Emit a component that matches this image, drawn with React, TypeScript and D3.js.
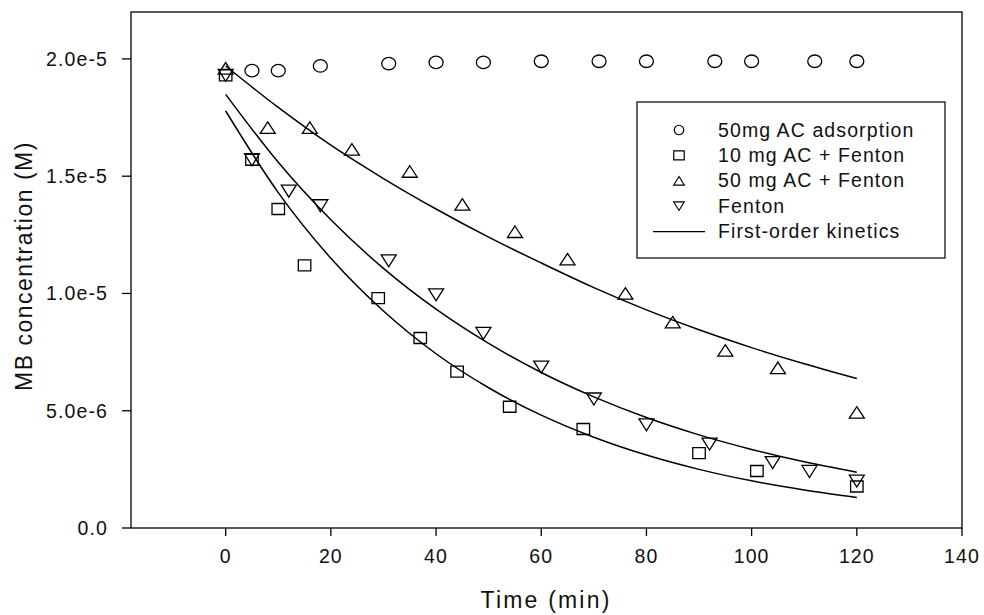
import React from "react";
import * as d3 from "d3";

// values in units of 1e-6 M
const adsorptionTime = [5, 10, 18, 31, 40, 49, 60, 71, 80, 93, 100, 112, 120];
const adsorptionConc = [19.5, 19.5, 19.7, 19.8, 19.85, 19.85, 19.9, 19.9, 19.9, 19.9, 19.9, 19.9, 19.9];

const ac10Time = [0, 5, 10, 15, 29, 37, 44, 54, 68, 90, 101, 120];
const ac10Conc = [19.3, 15.7, 13.6, 11.2, 9.8, 8.1, 6.67, 5.17, 4.22, 3.19, 2.43, 1.77];

const ac50Time = [0, 8, 16, 24, 35, 45, 55, 65, 76, 85, 95, 105, 120];
const ac50Conc = [19.6, 17.07, 17.07, 16.14, 15.2, 13.8, 12.63, 11.46, 10.0, 8.78, 7.57, 6.83, 4.93];

const fentonTime = [0, 5, 12, 18, 31, 40, 49, 60, 70, 80, 92, 104, 111, 120];
const fentonConc = [19.3, 15.7, 14.36, 13.74, 11.39, 9.94, 8.3, 6.86, 5.5, 4.4, 3.58, 2.79, 2.41, 2.0];

// first-order kinetics curves
const fitTime = [0, 10, 20, 30, 40, 50, 60, 70, 80, 90, 100, 110, 120];
const fitAc10 = [17.78, 14.3, 11.5, 9.25, 7.43, 5.98, 4.81, 3.87, 3.11, 2.5, 2.01, 1.62, 1.3];
const fitAc50 = [19.7, 17.93, 16.32, 14.9, 13.6, 12.4, 11.3, 10.25, 9.3, 8.45, 7.69, 7.0, 6.37];
const fitFenton = [18.49, 15.59, 13.14, 11.07, 9.33, 7.87, 6.63, 5.59, 4.71, 3.97, 3.35, 2.82, 2.38];

const xTicks = [0, 20, 40, 60, 80, 100, 120, 140];
const yTicks = [0, 5e-6, 1e-5, 1.5e-5, 2e-5];
const yTickLabels = ["0.0", "5.0e-6", "1.0e-5", "1.5e-5", "2.0e-5"];

const legendLabels = [
  "50mg AC adsorption",
  "10 mg AC + Fenton",
  "50 mg AC + Fenton",
  "Fenton",
  "First-order kinetics",
];

const font = "'Liberation Sans', Arial, sans-serif";

const left = 131, right = 962, top = 12, bottom = 528;

const getX = d3.scaleLinear().domain([-18, 140]).range([left, right]);
const getY = d3.scaleLinear().domain([0, 2.2e-5]).range([bottom, top]);

type Shape = "circle" | "square" | "up" | "down";

function markerPath(shape: Shape, cx: number, cy: number, w: number, h: number) {
  if (shape === "circle") {
    return `M${cx - w / 2},${cy}a${w / 2},${h / 2} 0 1,0 ${w},0a${w / 2},${h / 2} 0 1,0 ${-w},0Z`;
  }
  const p = d3.path();
  if (shape === "square") {
    p.rect(cx - w / 2, cy - h / 2, w, h);
    return p.toString();
  }
  if (shape === "up") {
    p.moveTo(cx, cy - h / 2);
    p.lineTo(cx + w / 2, cy + h / 2);
    p.lineTo(cx - w / 2, cy + h / 2);
    p.closePath();
    return p.toString();
  }
  p.moveTo(cx - w / 2, cy - h / 2);
  p.lineTo(cx + w / 2, cy - h / 2);
  p.lineTo(cx, cy + h / 2);
  p.closePath();
  return p.toString();
}

const series: { time: number[]; conc: number[]; shape: Shape; w: number; h: number }[] = [
  { time: adsorptionTime, conc: adsorptionConc, shape: "circle", w: 14, h: 12.5 },
  { time: ac10Time, conc: ac10Conc, shape: "square", w: 12.5, h: 11 },
  { time: ac50Time, conc: ac50Conc, shape: "up", w: 15, h: 11.5 },
  { time: fentonTime, conc: fentonConc, shape: "down", w: 15, h: 12 },
];

const legendShapes: Shape[] = ["circle", "square", "up", "down"];
const legendSizes = [[9.5, 9.5], [10.5, 9], [10.5, 8.5], [10.5, 8.5]];

export default function App() {
  const line = d3
    .line<[number, number]>()
    .x(d => getX(d[0]))
    .y(d => getY(d[1] * 1e-6))
    .curve(d3.curveMonotoneX);

  const fits = [fitAc10, fitAc50, fitFenton];

  const legendX = 637, legendY = 102, legendW = 308, legendH = 156;
  const rowY = (i: number) => 130 + i * 25.4;

  return (
    <div style={{ position: "absolute", left: 0, top: 0 }}>
      <svg width={984} height={615} style={{ display: "block", background: "#fff" }} fontFamily={font}>
        {/* frame */}
        <rect x={left} y={top} width={right - left} height={bottom - top} fill="none" stroke="#000" strokeWidth={1.3} />

        {/* y ticks */}
        {yTicks.map((t, i) => (
          <g key={"y" + i}>
            <line x1={left - 9} x2={left} y1={getY(t)} y2={getY(t)} stroke="#000" strokeWidth={1.3} />
            <text x={108} y={getY(t) + 7} fontSize={19.5} letterSpacing={1.1} textAnchor="end" fill="#111">
              {yTickLabels[i]}
            </text>
          </g>
        ))}

        {/* x ticks */}
        {xTicks.map(t => (
          <g key={"x" + t}>
            <line x1={getX(t)} x2={getX(t)} y1={bottom} y2={bottom + 8} stroke="#000" strokeWidth={1.3} />
            <text x={getX(t)} y={563} fontSize={19.5} letterSpacing={1.1} textAnchor="middle" fill="#111">
              {t}
            </text>
          </g>
        ))}

        <text x={546} y={608} fontSize={23} letterSpacing={2.2} textAnchor="middle" fill="#111">
          Time (min)
        </text>
        <text
          transform={`translate(32, 266) rotate(-90)`}
          fontSize={23}
          letterSpacing={1.5}
          textAnchor="middle"
          fill="#111"
        >
          MB concentration (M)
        </text>

        {/* fitted curves */}
        {fits.map((f, i) => (
          <path
            key={"fit" + i}
            d={line(fitTime.map((t, j) => [t, f[j]] as [number, number])) || ""}
            fill="none"
            stroke="#000"
            strokeWidth={1.5}
          />
        ))}

        {/* data points */}
        {series.map((s, si) =>
          s.time.map((t, i) => (
            <path
              key={"p" + si + "-" + i}
              d={markerPath(s.shape, getX(t), getY(s.conc[i] * 1e-6), s.w, s.h)}
              fill="none"
              stroke="#000"
              strokeWidth={1.3}
            />
          ))
        )}

        {/* legend */}
        <rect x={legendX} y={legendY} width={legendW} height={legendH} fill="#fff" stroke="#000" strokeWidth={1.2} />
        {legendLabels.map((label, i) => (
          <g key={"lg" + i}>
            {i < 4 ? (
              <path
                d={markerPath(legendShapes[i], 679, rowY(i), legendSizes[i][0], legendSizes[i][1])}
                fill="none"
                stroke="#000"
                strokeWidth={1.2}
              />
            ) : (
              <line x1={653} x2={705} y1={rowY(i)} y2={rowY(i)} stroke="#000" strokeWidth={1.3} />
            )}
            <text x={718} y={rowY(i) + 6.5} fontSize={19.5} letterSpacing={1.1} fill="#111">
              {label}
            </text>
          </g>
        ))}
      </svg>
    </div>
  );
}
